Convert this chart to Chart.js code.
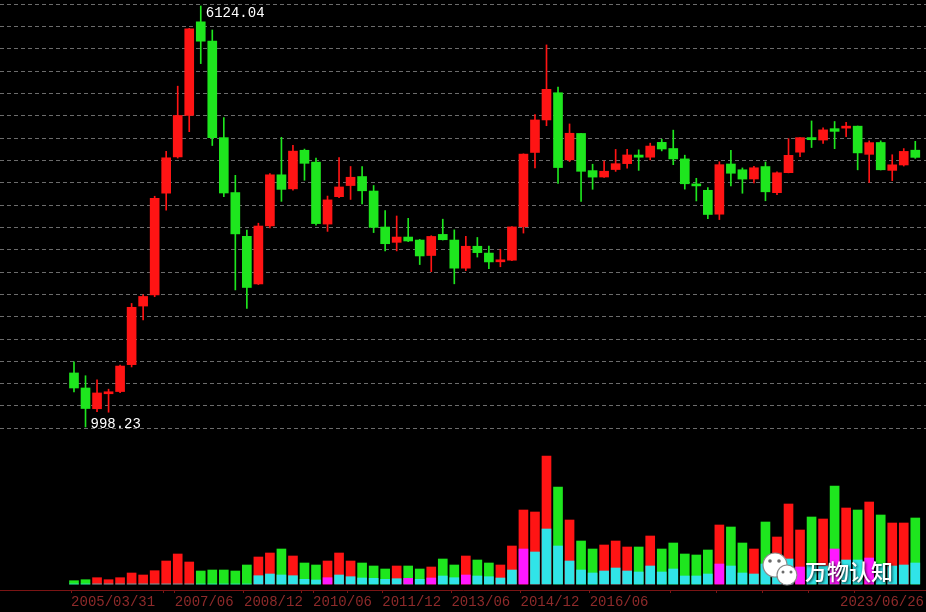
<!DOCTYPE html>
<html>
<head>
<meta charset="utf-8">
<title>上证指数 季线</title>
<script src="https://cdn.jsdelivr.net/npm/chart.js@4.4.1/dist/chart.umd.min.js"></script>
<style>
  html, body { margin: 0; padding: 0; background: #000; }
  #kline { display: block; }
</style>
</head>
<body>
<canvas id="kline" width="926" height="612"></canvas>
<script>
// quarterly candles, 2005Q1 .. 2023Q2
var quarters = [
  '2005Q1','2005Q2','2005Q3','2005Q4','2006Q1','2006Q2','2006Q3','2006Q4',
  '2007Q1','2007Q2','2007Q3','2007Q4','2008Q1','2008Q2','2008Q3','2008Q4',
  '2009Q1','2009Q2','2009Q3','2009Q4','2010Q1','2010Q2','2010Q3','2010Q4',
  '2011Q1','2011Q2','2011Q3','2011Q4','2012Q1','2012Q2','2012Q3','2012Q4',
  '2013Q1','2013Q2','2013Q3','2013Q4','2014Q1','2014Q2','2014Q3','2014Q4',
  '2015Q1','2015Q2','2015Q3','2015Q4','2016Q1','2016Q2','2016Q3','2016Q4',
  '2017Q1','2017Q2','2017Q3','2017Q4','2018Q1','2018Q2','2018Q3','2018Q4',
  '2019Q1','2019Q2','2019Q3','2019Q4','2020Q1','2020Q2','2020Q3','2020Q4',
  '2021Q1','2021Q2','2021Q3','2021Q4','2022Q1','2022Q2','2022Q3','2022Q4',
  '2023Q1','2023Q2'
];

var open = [
  1260, 1181, 1080, 1152, 1163, 1306, 1681, 1763, 2734, 3196,
  3820, 5720, 5265, 3473, 2741, 2270, 1849, 2374, 2959, 2785,
  3289, 3125, 2393, 2693, 2825, 2937, 2759, 2363, 2212, 2263,
  2234, 2090, 2289, 2234, 1979, 2175, 2112, 2034, 2048, 2366,
  3258, 3748, 4214, 3156, 3536, 3013, 2931, 3027, 3105, 3222,
  3192, 3403, 3314, 3169, 2841, 2768, 2497, 3100, 3024, 2906,
  3066, 2740, 2986, 3262, 3474, 3437, 3610, 3618, 3649, 3232,
  3401, 3016, 3087, 3290
];
var high = [
  1322, 1245, 1223, 1175, 1303, 1700, 1765, 2698, 3274, 4335,
  5560, 6124.04, 5522, 3786, 2952, 2333, 2402, 2975, 3478, 3361,
  3306, 3181, 2700, 3186, 3067, 3067, 2826, 2536, 2478, 2453,
  2240, 2276, 2444, 2334, 2270, 2259, 2177, 2146, 2367, 3239,
  3835, 5178, 4317, 3684, 3539, 3097, 3140, 3301, 3301, 3295,
  3391, 3450, 3587, 3220, 2915, 2800, 3130, 3288, 3048, 3068,
  3127, 2996, 3458, 3474, 3732, 3624, 3723, 3708, 3651, 3425,
  3425, 3226, 3313, 3418
];
var low = [
  1161, 998.23, 1067, 1064, 1157, 1293, 1583, 1750, 2541, 3180,
  3563, 4778, 3357, 2693, 1802, 1664, 1844, 2353, 2639, 2770,
  2890, 2382, 2319, 2680, 2661, 2610, 2307, 2132, 2132, 2219,
  2010, 1949, 2234, 1850, 1958, 2076, 1974, 1991, 2043, 2302,
  3049, 3656, 2850, 3133, 2638, 2780, 2925, 3003, 3044, 3016,
  3155, 3280, 3091, 2782, 2644, 2449, 2440, 2822, 2733, 2857,
  2646, 2717, 2984, 3199, 3328, 3388, 3312, 3487, 3023, 2863,
  3021, 2885, 3073, 3176
];
var close = [
  1181, 1081, 1156, 1161, 1298, 1672, 1752, 2675, 3184, 3821,
  5552, 5262, 3473, 2736, 2294, 1821, 2373, 2959, 2779, 3277,
  3109, 2398, 2656, 2808, 2928, 2762, 2359, 2199, 2263, 2225,
  2086, 2269, 2237, 1979, 2175, 2116, 2033, 2048, 2364, 3235,
  3748, 4277, 3053, 3539, 3004, 2930, 3005, 3104, 3223, 3192,
  3349, 3307, 3169, 2847, 2821, 2494, 3091, 2979, 2905, 3050,
  2750, 2985, 3218, 3473, 3442, 3591, 3568, 3640, 3252, 3399,
  3024, 3089, 3273, 3190
];

// volume panel (relative units)
var volume = [
  3.3, 4.3, 6.3, 4.3, 6.3, 11, 9, 13.3, 23, 30,
  22, 13, 14, 14, 13, 19, 27, 31, 35, 28,
  21, 19, 23, 31, 23, 21, 18, 15, 18, 18,
  15, 17, 25, 19, 28, 24, 21, 19, 38, 74,
  72, 128, 97, 64, 43, 35, 39, 43, 37, 37,
  48, 35, 41, 30, 29, 34, 59, 57, 41, 35,
  62, 47, 80, 54, 67, 65, 98, 76, 74, 82,
  69, 61, 61, 66
];
var volumeInner = [
  0, 0, 0, 0, 0, 0, 0, 0, 0, 0,
  0, 0, 0, 0, 0, 0, 8.3, 10, 9, 8.3,
  4.7, 4, 6.3, 9, 7.3, 6, 5.7, 4.7, 5.3, 5.7,
  4.7, 6, 8, 6.3, 9, 8, 7.3, 6, 14, 35,
  32, 55, 38, 23, 14, 11, 13, 16, 13, 12,
  18, 12, 15, 8, 8, 10, 20, 18, 11, 10,
  20, 27, 25, 17, 20, 18, 35, 24, 24, 26,
  20, 18, 19, 21
];
var innerMagenta = [22, 29, 31, 34, 39, 56, 63, 66, 69];

// dashed price grid lines
var gridValues = [993, 1093, 1203, 1325, 1458, 1605, 1768, 1946, 2143, 2359,
  2597, 2858, 3147, 3464, 3813, 4197, 4622, 5089, 5602, 6166];

// date axis
var dateTicks = [0, 9, 15, 21, 27, 33, 39, 45];
var dateTickText = ['2005/03/31', '2007/06', '2008/12', '2010/06', '2011/12', '2013/06', '2014/12', '2016/06'];
var yearMarks = [8, 20, 24, 52, 56, 60, 64, 68];
var lastDate = '2023/06/26';

var upColor = '#ff1414';
var downColor = '#1ee61e';
var cyan = '#30e4e8';
var magenta = '#ff18ff';
var axisRed = '#7a1414';
var labelRed = '#8e2a2a';
var monoFont = '"Liberation Mono", "DejaVu Sans Mono", monospace';

var candleColors = quarters.map(function (q, i) {
  return close[i] >= open[i] ? upColor : downColor;
});
var innerColors = quarters.map(function (q, i) {
  return innerMagenta.indexOf(i) >= 0 ? magenta : cyan;
});

var extras = {
  id: 'extras',
  afterDraw: function (chart) {
    var ctx = chart.ctx;
    var x = chart.scales.x;
    var y = chart.scales.y;
    var hi = high.indexOf(Math.max.apply(null, high));
    var lo = low.indexOf(Math.min.apply(null, low));

    ctx.save();
    ctx.font = '14px ' + monoFont;
    ctx.fillStyle = '#ffffff';
    ctx.textAlign = 'left';
    ctx.textBaseline = 'top';
    ctx.fillText(high[hi].toFixed(2), x.getPixelForValue(hi) + 5, y.getPixelForValue(high[hi]));
    ctx.textBaseline = 'alphabetic';
    ctx.fillText(low[lo].toFixed(2), x.getPixelForValue(lo) + 5, y.getPixelForValue(low[lo]) + 1);

    // last date, right aligned
    ctx.fillStyle = labelRed;
    ctx.textAlign = 'right';
    ctx.textBaseline = 'middle';
    ctx.fillText(lastDate, x.right - 2, x.top + 4 + 8.4);

    // watermark
    function bubble(cx, cy, r) {
      ctx.beginPath();
      ctx.arc(cx, cy, r, 0, Math.PI * 2);
      ctx.fillStyle = '#ffffff';
      ctx.fill();
      ctx.lineWidth = 1.2;
      ctx.strokeStyle = '#8a8a8a';
      ctx.stroke();
    }
    function dot(cx, cy, r) {
      ctx.beginPath();
      ctx.arc(cx, cy, r, 0, Math.PI * 2);
      ctx.fillStyle = '#6a6a6a';
      ctx.fill();
    }
    bubble(775, 565, 12);
    dot(770, 561, 1.8);
    dot(779, 561, 1.8);
    bubble(787, 575, 10);
    dot(783, 572, 1.5);
    dot(791, 572, 1.5);

    ctx.font = '500 22px "Noto Sans CJK SC", sans-serif';
    ctx.textAlign = 'left';
    ctx.textBaseline = 'middle';
    ctx.shadowColor = 'rgba(0,0,0,0.9)';
    ctx.shadowBlur = 3;
    ctx.shadowOffsetX = 1;
    ctx.shadowOffsetY = 1;
    ctx.fillStyle = '#ffffff';
    ctx.fillText('万物认知', 805, 572);
    ctx.restore();
  }
};

var klineChart = new Chart(document.getElementById('kline').getContext('2d'), {
  type: 'bar',
  data: {
    datasets: [
      {
        label: 'wick',
        data: quarters.map(function (q, i) { return { x: i, y: [low[i], high[i]] }; }),
        backgroundColor: candleColors,
        barThickness: 1,
        grouped: false,
        order: 3,
        yAxisID: 'y'
      },
      {
        label: 'body',
        data: quarters.map(function (q, i) { return { x: i, y: [open[i], close[i]] }; }),
        backgroundColor: candleColors,
        barThickness: 9,
        minBarLength: 2,
        grouped: false,
        order: 2,
        yAxisID: 'y'
      },
      {
        label: 'volume',
        data: quarters.map(function (q, i) { return { x: i, y: volume[i] }; }),
        backgroundColor: candleColors,
        barThickness: 9,
        grouped: false,
        order: 1,
        yAxisID: 'yv'
      },
      {
        label: 'volumeInner',
        data: quarters.map(function (q, i) { return { x: i, y: volumeInner[i] }; }),
        backgroundColor: innerColors,
        barThickness: 9,
        grouped: false,
        order: 0,
        yAxisID: 'yv'
      }
    ]
  },
  options: {
    responsive: false,
    animation: false,
    events: [],
    layout: { padding: 0, autoPadding: false },
    plugins: {
      legend: { display: false },
      tooltip: { enabled: false }
    },
    scales: {
      x: {
        type: 'linear',
        min: -6.42,
        max: 73.93,
        offset: false,
        afterFit: function (s) { s.height = 22; },
        afterBuildTicks: function (s) {
          s.ticks = dateTicks.concat(yearMarks).map(function (i) { return { value: i - 0.25 }; });
        },
        ticks: {
          autoSkip: false,
          maxRotation: 0,
          align: 'start',
          padding: 1,
          color: labelRed,
          font: { family: monoFont, size: 14 },
          callback: function (v) {
            var k = dateTicks.indexOf(Math.round(v + 0.25));
            return k >= 0 ? dateTickText[k] : '';
          }
        },
        grid: { offset: false, drawOnChartArea: false, drawTicks: true, tickLength: 3, color: axisRed },
        border: { color: axisRed }
      },
      y: {
        type: 'logarithmic',
        position: 'left',
        min: 494.6,
        max: 6284,
        afterFit: function (s) { s.width = 0; },
        afterBuildTicks: function (s) {
          s.ticks = gridValues.map(function (v) { return { value: v }; });
        },
        ticks: { display: false },
        grid: { color: '#6c6c6c', drawTicks: false, lineWidth: 1 },
        border: { display: false, dash: [4, 3] }
      },
      yv: {
        type: 'linear',
        position: 'right',
        min: -6,
        max: 584,
        display: false
      }
    }
  },
  plugins: [extras]
});
</script>
</body>
</html>
